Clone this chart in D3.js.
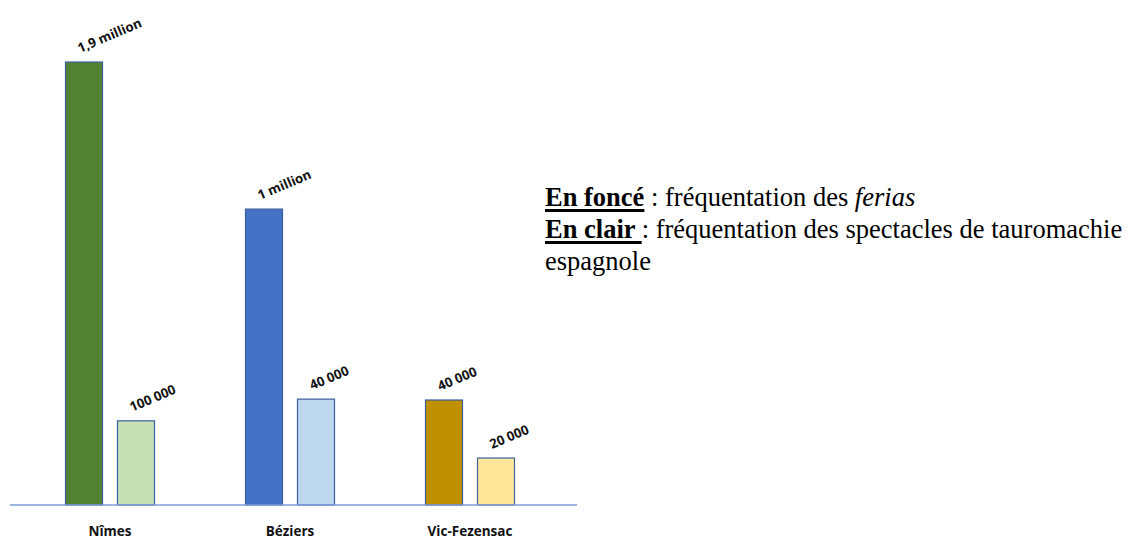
<!DOCTYPE html>
<html>
<head>
<meta charset="utf-8">
<script src="https://cdn.jsdelivr.net/npm/d3@7"></script>
<style>
  body { margin: 0; background: #fff; }
  .legend { position: absolute; left: 545px; top: 181px; font-family: "Liberation Serif", "Times New Roman", serif; font-size: 26.5px; line-height: 32px; color: #000; white-space: nowrap; }
  .legend b { text-decoration: underline; text-decoration-thickness: 2.5px; text-underline-offset: 3px; }
</style>
</head>
<body>
<div id="chart"></div>
<div class="legend">
  <div><b>En foncé</b> : fréquentation des <i>ferias</i></div>
  <div><b>En clair </b>: fréquentation des spectacles de tauromachie</div>
  <div>espagnole</div>
</div>
<script>
// villes
var cities = ["Nîmes", "Béziers", "Vic-Fezensac"];
// hauteur relative des barres (0-100), pas proportionnelle aux chiffres
var ferias = [100, 66.8, 23.7];
var tauromachie = [19, 23.9, 10.6];
var feriasLabels = ["1,9 million", "1 million", "40 000"];
var tauroLabels = ["100 000", "40 000", "20 000"];
var darkColors = ["#548235", "#4472c4", "#bf9000"];
var lightColors = ["#c5e0b4", "#bdd7ee", "#ffe699"];

var svgWidth = 1128;
var svgHeight = 545;

var data = [];
cities.forEach(function (c, i) {
    data.push({ city: c, kind: "dark", value: ferias[i], label: feriasLabels[i], color: darkColors[i] });
    data.push({ city: c, kind: "light", value: tauromachie[i], label: tauroLabels[i], color: lightColors[i] });
});

var svg = d3.select("#chart").append("svg")
    .attr("width", svgWidth)
    .attr("height", svgHeight);

var x0 = d3.scaleBand().domain(cities).range([20, 560]);
var x1 = d3.scaleBand().domain(["dark", "light"]).range([0, 89]).paddingInner(15 / 52);
var y = d3.scaleLinear().domain([0, 100]).range([505, 62]);

function barX(d) {
    return x0(d.city) + x0.bandwidth() / 2 - 44.5 + x1(d.kind);
}

svg.selectAll("rect.bar")
    .data(data)
    .enter()
    .append("rect")
    .attr("class", "bar")
    .attr("x", barX)
    .attr("y", d => y(d.value))
    .attr("width", x1.bandwidth())
    .attr("height", d => y(0) - y(d.value))
    .attr("fill", d => d.color)
    .attr("stroke", "#3c5f9e")
    .attr("stroke-width", 1.2);

// ligne de base
svg.append("line")
    .attr("x1", 10)
    .attr("x2", 577)
    .attr("y1", y(0))
    .attr("y2", y(0))
    .attr("stroke", "#7f9fd6")
    .attr("stroke-width", 1.5);

svg.selectAll("text.val")
    .data(data)
    .enter()
    .append("text")
    .attr("class", "val")
    .attr("transform", function (d) {
        var tx = barX(d) + x1.bandwidth() / 2 - 4;
        var ty = y(d.value) - 9;
        return `translate(${tx}, ${ty}) rotate(-23)`;
    })
    .style("font-family", "'Open Sans', sans-serif")
    .style("font-weight", "bold")
    .style("font-size", "13.2px")
    .attr("fill", "#111")
    .text(d => d.label);

svg.selectAll("text.city")
    .data(cities)
    .enter()
    .append("text")
    .attr("class", "city")
    .attr("x", d => x0(d) + x0.bandwidth() / 2)
    .attr("y", 536)
    .attr("text-anchor", "middle")
    .style("font-family", "'Open Sans', sans-serif")
    .style("font-weight", "bold")
    .style("font-size", "13.5px")
    .attr("fill", "#111")
    .text(d => d);
</script>
</body>
</html>
